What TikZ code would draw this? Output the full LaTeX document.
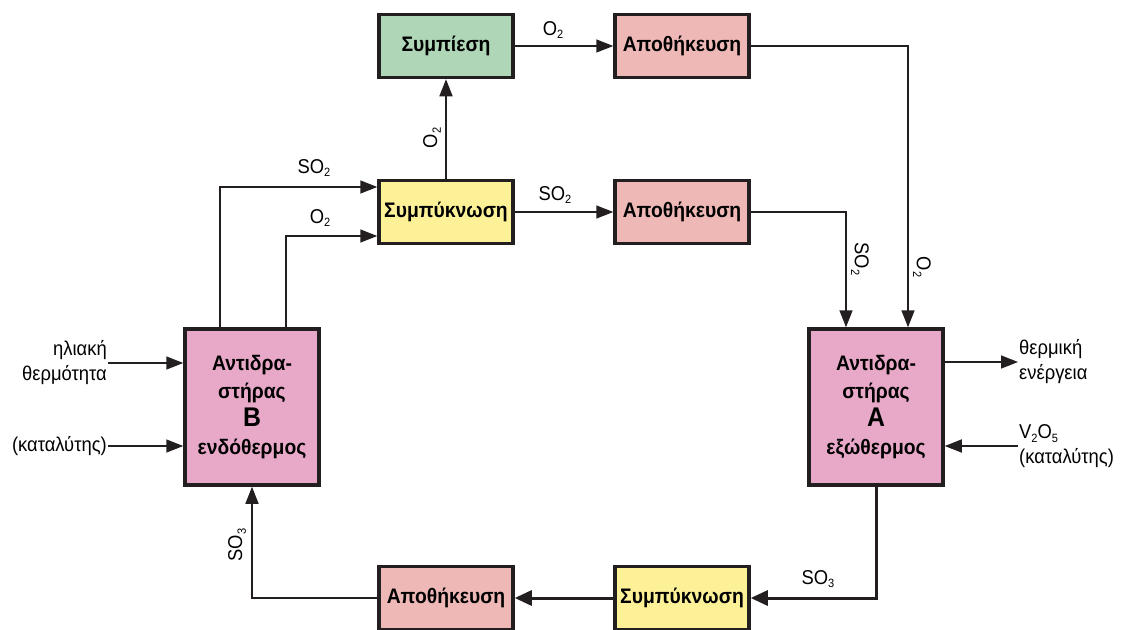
\documentclass[tikz,border=0pt]{standalone}
\usepackage{fontspec}
\setmainfont{Liberation Sans}[FakeStretch=0.92]
\usetikzlibrary{arrows.meta}
\definecolor{boxgreen}{HTML}{AED6B7}
\definecolor{boxsalmon}{HTML}{EDB8B6}
\definecolor{boxyellow}{HTML}{FDF198}
\definecolor{boxpink}{HTML}{E8A9C8}
\definecolor{ink}{HTML}{231F20}
\tikzset{
  unit/.style={draw=ink,line width=3.5pt,minimum width=134pt,minimum height=63pt,
    inner sep=2pt,font=\fontsize{21}{23}\selectfont\bfseries},
  reactor/.style={unit,fill=boxpink,minimum height=156pt,align=center,
    font=\fontsize{21}{28}\selectfont\bfseries},
  flow/.style={draw=ink,line width=1.6pt,-{Triangle[length=17pt,width=13pt]}},
  bigflow/.style={flow,line width=3pt,-{Triangle[length=17pt,width=15pt]}},
  lbl/.style={font=\fontsize{20}{25}\selectfont,inner sep=1pt}
}
\newcommand{\sub}[1]{\raisebox{-0.35ex}{\fontsize{12}{12}\selectfont #1}}
\begin{document}
\begin{tikzpicture}[x=1pt,y=-1pt]
\useasboundingbox (0,0) rectangle (1126,629);
% process units
\node[unit,fill=boxgreen] (comp) at (446,46) {Συμπίεση};
\node[unit,fill=boxsalmon] (st1) at (682,46) {Αποθήκευση};
\node[unit,fill=boxyellow] (cond1) at (446,212) {Συμπύκνωση};
\node[unit,fill=boxsalmon] (st2) at (682,212) {Αποθήκευση};
\node[reactor] (rB) at (252,407) {Αντιδρα-\\στήρας\\{\fontsize{27}{28}\selectfont B}\\ενδόθερμος};
\node[reactor] (rA) at (876,407) {Αντιδρα-\\στήρας\\{\fontsize{27}{28}\selectfont A}\\εξώθερμος};
\node[unit,fill=boxsalmon] (st3) at (446,598) {Αποθήκευση};
\node[unit,fill=boxyellow] (cond2) at (682,598) {Συμπύκνωση};
% outside inputs and outputs
\node[lbl,align=right,anchor=east] (sun) at (108,363) {ηλιακή\\θερμότητα};
\node[lbl,anchor=east] (catB) at (108,446) {(καταλύτης)};
\node[lbl,align=left,anchor=west] (heat) at (1018,362) {θερμική\\ενέργεια};
\node[lbl,align=left,anchor=west] (catA) at (1018,446) {V\sub{2}O\sub{5}\\(καταλύτης)};
\draw[flow] (sun.east |- 0,363) -- (rB.west |- 0,363);
\draw[flow] (catB.east) -- (rB.west |- catB.east);
\draw[flow] (rA.east |- 0,362) -- (heat.west |- 0,362);
\draw[flow] (catA.west |- 0,446) -- (rA.east |- 0,446);
% flows
\draw[flow] (comp.east) -- (st1.west);
\node[lbl] (lo2a) at (553,30) {O\sub{2}};
\draw[flow] (cond1.north) -- (comp.south);
\node[lbl,rotate=90] (lo2b) at (432,138) {O\sub{2}};
\draw[flow] (cond1.east) -- (st2.west);
\node[lbl] (lso2a) at (555,195) {SO\sub{2}};
\draw[flow] (st1.east) -| ([xshift=32pt]rA.north);
\node[lbl,rotate=-90] (lo2c) at (922,267) {O\sub{2}};
\draw[flow] (st2.east) -| ([xshift=-30pt]rA.north);
\node[lbl,rotate=-90] (lso2b) at (860,259) {SO\sub{2}};
\draw[flow] ([xshift=-32pt]rB.north) |- ([yshift=25pt]cond1.west);
\node[lbl] (lso2c) at (314,168) {SO\sub{2}};
\draw[flow] ([xshift=34pt]rB.north) |- ([yshift=-24pt]cond1.west);
\node[lbl] (lo2d) at (320,218) {O\sub{2}};
\draw[bigflow] (rA.south) |- (cond2.east);
\node[lbl] (lso3a) at (818,579) {SO\sub{3}};
\draw[bigflow] (cond2.west) -- (st3.east);
\draw[flow] (st3.west) -| (rB.south);
\node[lbl,rotate=90] (lso3b) at (237,545) {SO\sub{3}};
\end{tikzpicture}
\end{document}
